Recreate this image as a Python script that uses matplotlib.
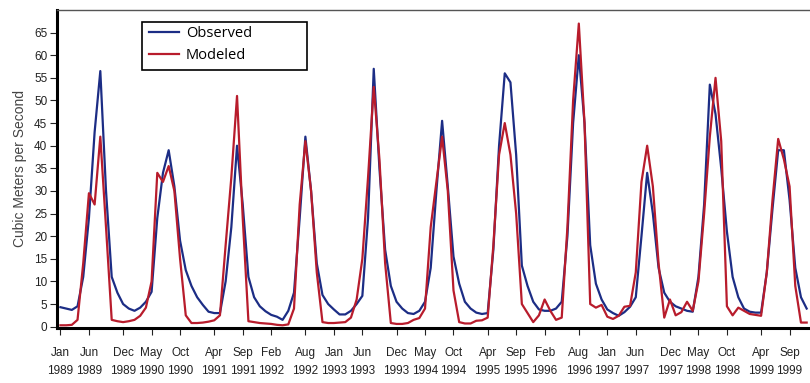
import matplotlib.pyplot as plt
import numpy as np
from matplotlib.patches import Rectangle

# Monthly streamflow, Jan 1989 - Dec 1999 (cubic meters per second)
observed = [
    4.3, 4.0, 3.7, 4.5, 11, 24, 43, 56.5, 30, 11, 7.5, 5,          # 1989
    4.0, 3.5, 4.2, 5.5, 7.7, 24, 34, 39, 31, 19, 12.5, 9,          # 1990
    6.5, 4.8, 3.3, 3.0, 3.0, 10, 22, 40, 27, 11, 6.5, 4.5,         # 1991
    3.4, 2.6, 2.2, 1.5, 3.5, 7.5, 24, 42, 30, 14, 7, 5,            # 1992
    3.8, 2.7, 2.7, 3.5, 5.0, 6.8, 24, 57, 35, 17, 9, 5.5,          # 1993
    4.0, 3.0, 2.8, 3.5, 5.5, 13, 30, 45.5, 31, 15.5, 9.5, 5.5,     # 1994
    4.0, 3.1, 2.8, 3.0, 17, 40, 56, 54, 38, 13.5, 9, 5.5,          # 1995
    3.8, 3.5, 3.5, 4.0, 5.5, 20, 45, 60, 45, 18, 9.5, 6,           # 1996
    3.8, 3.0, 2.4, 3.2, 4.4, 6.5, 20, 34, 25, 13, 7.5, 5.5,        # 1997
    4.5, 4.0, 3.5, 3.3, 11, 27, 53.5, 47, 35, 21, 11, 6.5,         # 1998
    4.0, 3.3, 3.1, 3.1, 12, 26, 39, 39, 28, 13, 6.5, 4,            # 1999
]
modeled = [
    0.3, 0.3, 0.4, 1.5, 14, 29.5, 27, 42, 22, 1.5, 1.2, 1.0,       # 1989
    1.2, 1.5, 2.4, 4.2, 10, 34, 32, 35.5, 30, 15, 2.5, 0.8,        # 1990
    0.8, 0.9, 1.1, 1.4, 2.5, 18, 33, 51, 24, 1.2, 1.0, 0.8,        # 1991
    0.7, 0.6, 0.4, 0.3, 0.5, 4, 27, 41, 30, 12, 1.0, 0.8,          # 1992
    0.8, 0.9, 1.0, 2.0, 6, 15, 33, 53, 37, 14, 0.8, 0.6,           # 1993
    0.6, 0.8, 1.5, 1.9, 4, 22, 32, 42, 30, 8, 1.0, 0.7,            # 1994
    0.7, 1.3, 1.4, 2.0, 18, 38, 45, 38, 25, 5, 3, 1.0,             # 1995
    2.5, 6.0, 3.5, 1.5, 2, 22, 50, 67, 45, 5, 4.2, 4.8,            # 1996
    2.2, 1.7, 2.4, 4.4, 4.6, 12, 32, 40, 31, 14, 2, 6,             # 1997
    2.5, 3.2, 5.5, 3.5, 10, 25, 42, 55, 41, 4.5, 2.5, 4.2,         # 1998
    3.5, 2.8, 2.6, 2.4, 12, 28, 41.5, 37, 31, 9, 0.9, 0.9,         # 1999
]
start_year = 1989
tick_labels = [
    "Jan 1989", "Jun 1989", "Dec 1989", "May 1990", "Oct 1990", "Apr 1991",
    "Sep 1991", "Feb 1992", "Aug 1992", "Jan 1993", "Jun 1993", "Dec 1993",
    "May 1994", "Oct 1994", "Apr 1995", "Sep 1995", "Feb 1996", "Aug 1996",
    "Jan 1997", "Jun 1997", "Dec 1997", "May 1998", "Oct 1998", "Apr 1999",
    "Sep 1999",
]
month_names = ["Jan", "Feb", "Mar", "Apr", "May", "Jun",
               "Jul", "Aug", "Sep", "Oct", "Nov", "Dec"]

obs_color = "#1c2d85"
mod_color = "#b81c2c"

months = np.arange(len(observed))
tick_pos = []
for lab in tick_labels:
    mon, yr = lab.split()
    tick_pos.append((int(yr) - start_year) * 12 + month_names.index(mon))

plt.rcParams["font.family"] = ["Liberation Sans", "DejaVu Sans"]

fig = plt.figure(figsize=(8.1, 3.83), dpi=100)
ax = fig.add_axes([0.0704, 0.1436, 0.929, 0.8303])

ax.plot(months, observed, color=obs_color, lw=1.6, label="Observed")
ax.plot(months, modeled, color=mod_color, lw=1.6, label="Modeled")

ax.set_xlim(-0.6, 131.5)
ax.set_ylim(-0.3, 70)
ax.set_yticks(np.arange(0, 70, 5))
ax.set_xticks(tick_pos)
ax.set_xticklabels([lab.replace(" ", "\n") for lab in tick_labels],
                   linespacing=1.6)
ax.tick_params(axis="both", direction="out", length=5, width=0.8,
               labelsize=8.5, colors="#222222", pad=2)
ax.tick_params(axis="x", pad=9)
ax.set_ylabel("Cubic Meters per Second", fontsize=10, color="#444444",
              labelpad=5)

for side in ("left", "bottom"):
    ax.spines[side].set_linewidth(2.2)
    ax.spines[side].set_color("black")
ax.spines["top"].set_linewidth(1.0)
ax.spines["top"].set_color("#555555")
ax.spines["right"].set_visible(False)

# legend box is wider than its contents, so draw the frame separately
ax.add_patch(Rectangle((0.1126, 0.811), 0.2194, 0.150, transform=ax.transAxes,
                       fill=False, edgecolor="black", lw=1.2, zorder=5))
ax.legend(loc="upper left", bbox_to_anchor=(0.114, 0.968), frameon=False,
          prop={"family": ["Open Sans", "DejaVu Sans"], "size": 10.5},
          handlelength=2.1, handletextpad=0.45, labelspacing=0.5,
          borderaxespad=0)

fig.savefig("out.png", dpi=100)
